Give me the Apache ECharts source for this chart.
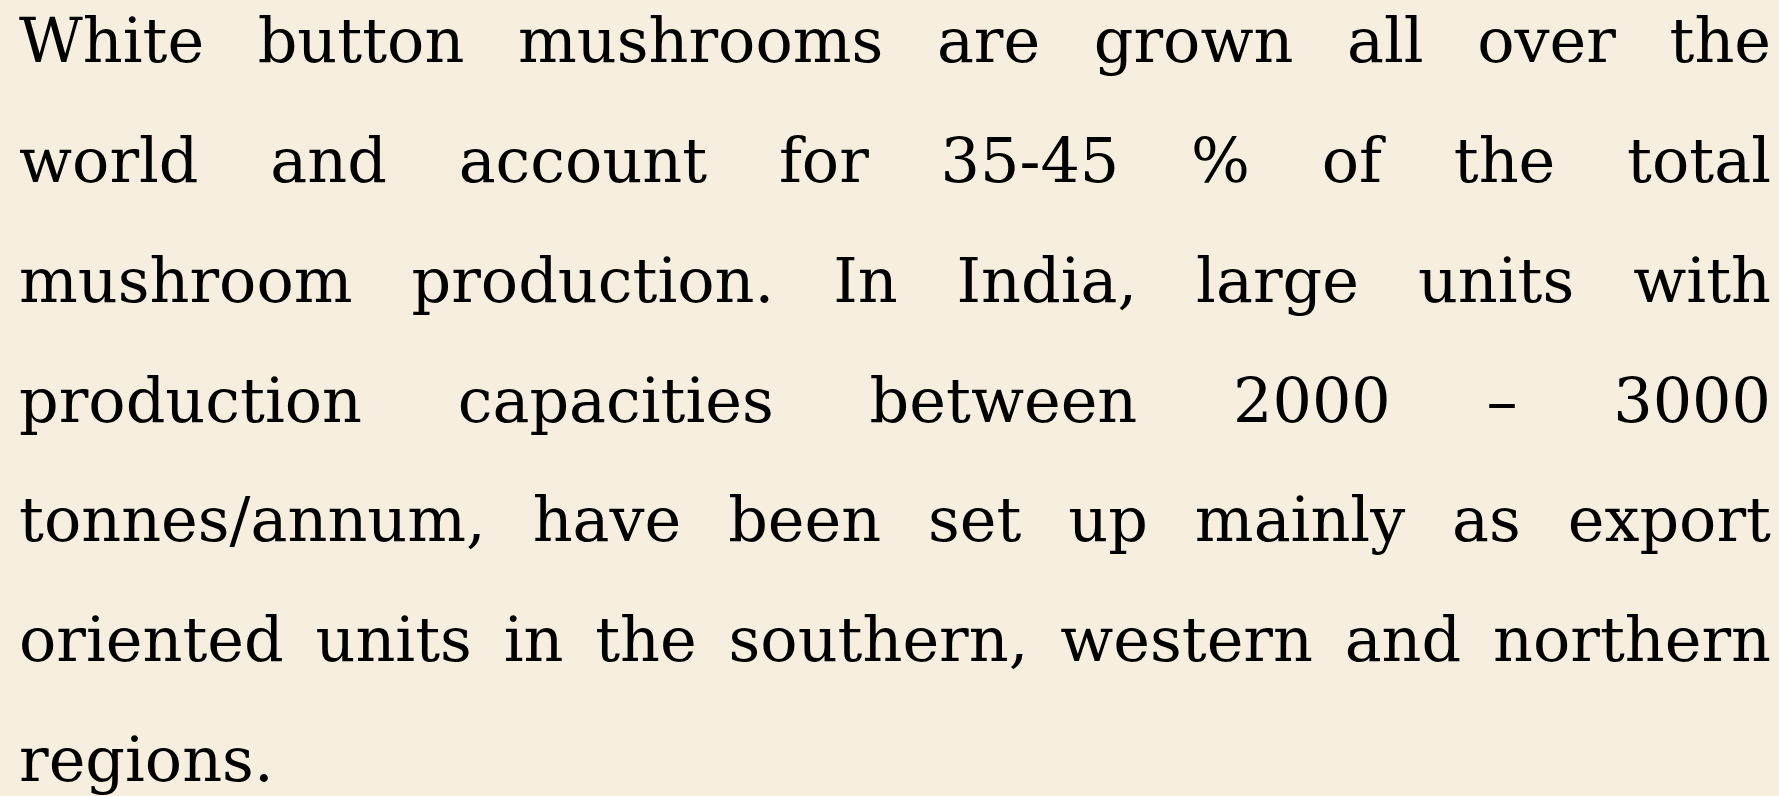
<!DOCTYPE html>
<html><head><meta charset="utf-8">
<script src="https://cdn.jsdelivr.net/npm/echarts@6/dist/echarts.min.js"></script>
<style>html,body{margin:0;padding:0;background:#F6EEDF}#c{width:1779px;height:796px}</style>
</head><body><div id="c"></div>
<script>
// Paragraph text, one array of words per printed line
const line1 = ["White", "button", "mushrooms", "are", "grown", "all", "over", "the"];
const line2 = ["world", "and", "account", "for", "35-45", "%", "of", "the", "total"];
const line3 = ["mushroom", "production.", "In", "India,", "large", "units", "with"];
const line4 = ["production", "capacities", "between", "2000", "\u2013", "3000"];
const line5 = ["tonnes/annum,", "have", "been", "set", "up", "mainly", "as", "export"];
const line6 = ["oriented", "units", "in", "the", "southern,", "western", "and", "northern"];
const line7 = ["regions."];
const lines = [line1, line2, line3, line4, line5, line6, line7];
const justified = [true, true, true, true, true, true, false];

const FONT_SIZE = 62;
const FONT = FONT_SIZE + 'px "DejaVu Serif"';
const LEFT = 19, RIGHT = 1771, FIRST_BASELINE = 68, LINE_STEP = 119.8;
const MID_OFFSET = 22; // canvas "middle" sits this far above the alphabetic baseline

const ctx = document.createElement('canvas').getContext('2d');
ctx.font = FONT;
const spaceW = ctx.measureText(' ').width;

const elements = [];
lines.forEach((words, li) => {
  const widths = words.map(w => ctx.measureText(w).width);
  const total = widths.reduce((a, b) => a + b, 0);
  const gap = (justified[li] && words.length > 1) ? (RIGHT - LEFT - total) / (words.length - 1) : spaceW;
  let x = LEFT;
  const yMid = FIRST_BASELINE + li * LINE_STEP - MID_OFFSET;
  words.forEach((w, wi) => {
    elements.push({
      type: 'text', x: x, y: yMid, silent: true,
      style: { text: w, font: FONT, fill: '#000000', textAlign: 'left', textVerticalAlign: 'middle' }
    });
    x += widths[wi] + gap;
  });
});

const chart = echarts.init(document.getElementById('c'), null, { renderer: 'canvas' });
chart.setOption({ backgroundColor: '#F6EEDF', animation: false, graphic: { elements: elements } });
</script></body></html>
